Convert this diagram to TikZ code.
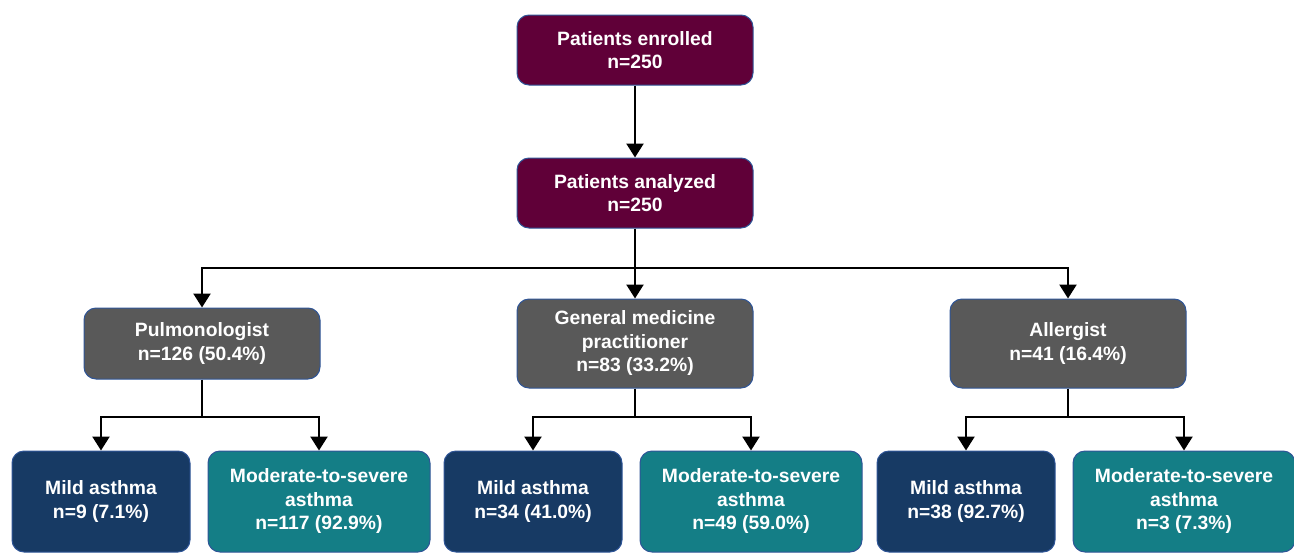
\documentclass[tikz,border=0pt]{standalone}
\usepackage{fontspec}
\setmainfont{Liberation Sans}
\usetikzlibrary{arrows.meta}
\definecolor{maroon}{HTML}{600038}
\definecolor{greybox}{HTML}{595959}
\definecolor{navy}{HTML}{173A64}
\definecolor{tealbox}{HTML}{147E86}
\definecolor{edge}{HTML}{2F5597}
\begin{document}
\begin{tikzpicture}[x=1pt,y=-1pt,
  box/.style={draw=edge,line width=1pt,rounded corners=12pt,text=white,
    font=\fontsize{19.3}{23.5}\selectfont\bfseries,align=center,inner sep=0pt},
  topbox/.style={box,fill=maroon,minimum width=236pt,minimum height=70pt},
  midbox/.style={box,fill=greybox,minimum width=236pt},
  mildbox/.style={box,fill=navy,minimum width=178pt,minimum height=101pt},
  modbox/.style={box,fill=tealbox,minimum width=222pt,minimum height=101pt},
  arr/.style={draw=black,line width=2.4pt,line join=miter,-{Triangle[width=17pt,length=14pt]}},
  ln/.style={draw=black,line width=2.4pt}]
\useasboundingbox (0,0) rectangle (1294,552);
\node[topbox] (en) at (635,50) {Patients enrolled\\n=250};
\node[topbox] (an) at (635,193) {Patients analyzed\\n=250};
\node[midbox,minimum height=71pt] (pul) at (202,343.5) {Pulmonologist\\n=126 (50.4\%)};
\node[midbox,minimum height=89pt] (gen) at (635,343.5) {General medicine\\practitioner\\n=83 (33.2\%)};
\node[midbox,minimum height=89pt] (all) at (1068,343.5) {Allergist\\n=41 (16.4\%)};
\node[mildbox] (m1) at (101,501.5) {Mild asthma\\n=9 (7.1\%)};
\node[modbox] (s1) at (319,501.5) {Moderate-to-severe\\asthma\\n=117 (92.9\%)};
\node[mildbox] (m2) at (533,501.5) {Mild asthma\\n=34 (41.0\%)};
\node[modbox] (s2) at (751,501.5) {Moderate-to-severe\\asthma\\n=49 (59.0\%)};
\node[mildbox] (m3) at (966,501.5) {Mild asthma\\n=38 (92.7\%)};
\node[modbox] (s3) at (1184,501.5) {Moderate-to-severe\\asthma\\n=3 (7.3\%)};
\coordinate (bus) at (635,268);
\coordinate (b1) at (202,417);
\coordinate (b2) at (635,417);
\coordinate (b3) at (1068,417);
\draw[arr] (en) -- (an);
\draw[ln] (an.south) -- (bus);
\draw[arr] (bus) -| (pul.north);
\draw[arr] (bus) -| (all.north);
\draw[arr] (bus) -- (gen.north);
\draw[ln] (pul.south) -- (b1);
\draw[arr] (b1) -| (m1.north);
\draw[arr] (b1) -| (s1.north);
\draw[ln] (gen.south) -- (b2);
\draw[arr] (b2) -| (m2.north);
\draw[arr] (b2) -| (s2.north);
\draw[ln] (all.south) -- (b3);
\draw[arr] (b3) -| (m3.north);
\draw[arr] (b3) -| (s3.north);
\end{tikzpicture}
\end{document}
